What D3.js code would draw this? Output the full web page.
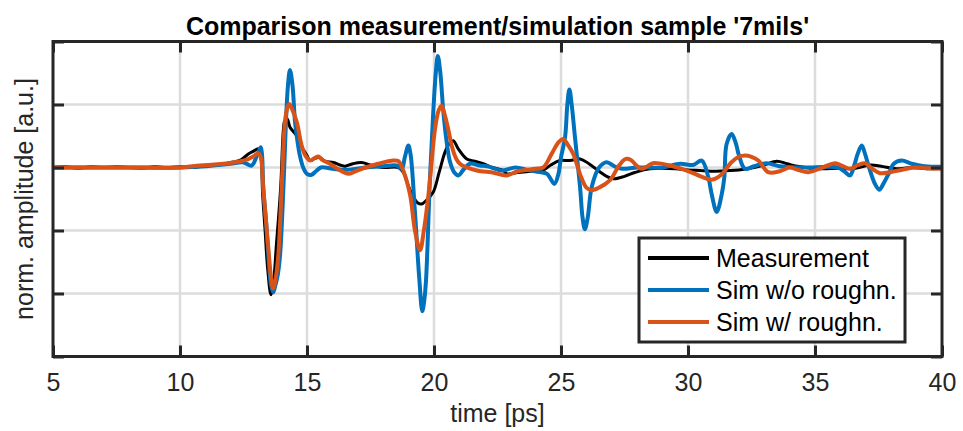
<!DOCTYPE html>
<html>
<head>
<meta charset="utf-8">
<script src="https://cdn.jsdelivr.net/npm/d3@7"></script>
<style>
  body { margin: 0; background: #fff; }
  text { font-family: "Liberation Sans", Arial, sans-serif; fill: #262626; }
</style>
</head>
<body>
<div id="chart"></div>
<script>
// measurement (black)
var measT = [5, 5.5, 6, 6.5, 7, 7.5, 8, 8.5, 9, 9.5, 10, 10.5, 11, 11.5, 12, 12.4, 12.69, 12.9, 13.08, 13.18, 13.25, 13.35, 13.45, 13.58, 13.66, 13.8, 13.96, 14.07, 14.12, 14.22, 14.33, 14.6, 14.72, 15.0, 15.12, 15.3, 15.5, 15.7, 16.04, 16.3, 16.5, 16.8, 17.15, 17.5, 18.0, 18.6, 18.79, 19.0, 19.19, 19.35, 19.51, 19.7, 19.97, 20.2, 20.43, 20.6, 20.76, 20.95, 21.29, 21.6, 21.94, 22.3, 22.73, 22.86, 23.3, 23.8, 24.3, 24.6, 24.96, 25.35, 25.75, 26.1, 26.5, 26.8, 27.06, 27.5, 27.9, 28.5, 29.5, 30.0, 30.47, 30.9, 31.5, 32.0, 32.6, 33.0, 33.5, 33.9, 34.3, 35.2, 36.0, 36.5, 37.2, 37.6, 38.2, 38.8, 39.4, 40]
var measV = [0, 0.005, -0.005, 0.005, 0, 0.005, 0, -0.005, 0.005, 0, 0.005, 0, 0.015, 0.02, 0.04, 0.06, 0.108, 0.13, 0.148, 0.1, -0.2, -0.5, -0.8, -1.01, -0.95, -0.6, -0.168, 0.3, 0.37, 0.385, 0.32, 0.25, 0.19, 0.095, 0.055, 0.07, 0.08, 0.05, 0.04, 0.02, 0.01, 0.03, 0.04, 0.02, 0, 0, -0.037, -0.15, -0.235, -0.28, -0.29, -0.26, -0.195, -0.04, 0.12, 0.19, 0.213, 0.15, 0.068, 0.05, 0.03, 0, -0.024, -0.05, -0.04, -0.03, -0.02, 0.02, 0.055, 0.055, 0.068, 0.03, -0.03, -0.07, -0.09, -0.07, -0.04, -0.01, -0.01, -0.02, -0.024, -0.03, -0.025, -0.02, 0, 0.02, 0.05, 0.03, 0.01, -0.01, -0.005, -0.01, 0.02, 0.01, -0.01, 0, -0.01, -0.005]

// simulation without roughness (blue)
var simT = [5, 8, 10, 11, 12, 12.5, 12.82, 13.02, 13.18, 13.23, 13.28, 13.39, 13.48, 13.58, 13.67, 13.76, 13.85, 13.94, 14.07, 14.17, 14.25, 14.33, 14.43, 14.53, 14.63, 14.72, 14.85, 15.0, 15.18, 15.35, 15.55, 16.0, 16.5, 17.3, 18.0, 18.53, 18.73, 18.85, 18.99, 19.08, 19.25, 19.42, 19.54, 19.62, 19.69, 19.84, 19.97, 20.07, 20.15, 20.25, 20.37, 20.5, 20.63, 20.8, 20.96, 21.15, 21.42, 21.8, 22.1, 22.7, 23.2, 23.7, 24.17, 24.45, 24.74, 24.9, 25.0, 25.16, 25.25, 25.33, 25.42, 25.55, 25.75, 25.85, 25.94, 26.05, 26.21, 26.5, 26.8, 27.1, 27.4, 28, 29, 29.69, 30.2, 30.54, 30.8, 30.93, 31.13, 31.33, 31.43, 31.52, 31.72, 31.89, 32.0, 32.24, 32.6, 33.1, 33.6, 34.5, 35.9, 36.15, 36.38, 36.55, 36.68, 36.84, 36.97, 37.1, 37.36, 37.53, 37.69, 37.9, 38.1, 38.41, 38.8, 39.3, 40]
var simV = [0, 0, 0, 0.01, 0.03, 0.04, 0.015, 0.09, 0.16, 0.1, -0.168, -0.43, -0.695, -0.93, -0.99, -0.93, -0.85, -0.695, -0.168, 0.358, 0.65, 0.774, 0.65, 0.358, 0.2, 0.095, 0, -0.05, -0.058, -0.03, 0, -0.01, -0.02, 0, 0.01, 0.016, -0.01, 0.08, 0.174, 0.1, -0.353, -0.88, -1.14, -1.05, -0.88, -0.09, 0.437, 0.75, 0.885, 0.75, 0.437, 0.2, 0.045, -0.04, -0.063, -0.02, 0.03, 0.016, 0.01, -0.024, 0, -0.02, -0.037, -0.05, -0.13, -0.05, 0.08, 0.24, 0.5, 0.62, 0.5, 0.24, -0.155, -0.4, -0.49, -0.4, -0.155, 0, 0.042, 0.01, -0.01, 0, 0, 0.03, 0.02, 0.055, -0.077, -0.21, -0.353, -0.21, -0.077, 0.187, 0.266, 0.187, 0.1, -0.01, 0.01, 0.034, 0.01, 0, 0, -0.03, -0.063, 0.02, 0.108, 0.174, 0.108, 0.02, -0.13, -0.176, -0.13, -0.05, 0.03, 0.055, 0.03, 0.01, 0.005]

// simulation with roughness (orange)
var roughT = [5, 8, 10, 10.79, 11.5, 12.1, 12.6, 12.9, 13.08, 13.18, 13.28, 13.5, 13.6, 13.67, 13.75, 13.87, 14.0, 14.13, 14.22, 14.3, 14.4, 14.6, 14.79, 14.95, 15.12, 15.3, 15.45, 15.6, 15.9, 16.2, 16.63, 16.9, 17.3, 17.8, 18.4, 18.6, 18.8, 19.06, 19.25, 19.45, 19.6, 19.78, 20.04, 20.18, 20.3, 20.42, 20.56, 20.7, 20.85, 21.02, 21.68, 22.3, 22.86, 23.3, 24.0, 24.3, 24.63, 24.9, 25.09, 25.3, 25.48, 25.8, 26.0, 26.21, 26.5, 26.93, 27.3, 27.55, 27.75, 27.95, 28.15, 28.4, 28.62, 29.2, 29.95, 30.5, 30.93, 31.3, 31.7, 32.0, 32.24, 32.5, 32.77, 33.16, 33.6, 34.0, 34.35, 34.74, 35.3, 35.79, 36.1, 36.38, 36.7, 36.97, 37.25, 37.56, 38.0, 38.4, 38.9, 39.4, 40]
var roughV = [0, 0, 0, 0.016, 0.025, 0.04, 0.06, 0.09, 0.113, 0.08, -0.168, -0.695, -0.9, -0.96, -0.9, -0.695, -0.168, 0.358, 0.47, 0.503, 0.47, 0.358, 0.174, 0.09, 0.055, 0.075, 0.087, 0.06, 0.03, -0.01, -0.05, -0.03, 0, 0.03, 0.055, 0.05, -0.03, -0.22, -0.5, -0.656, -0.5, -0.22, 0.305, 0.45, 0.49, 0.42, 0.305, 0.17, 0.08, 0.03, -0.024, -0.04, -0.063, -0.03, -0.01, 0, 0.108, 0.2, 0.227, 0.17, 0.108, -0.08, -0.16, -0.18, -0.16, -0.1, 0.02, 0.068, 0.06, 0.02, -0.01, 0.01, 0.034, 0.02, -0.024, -0.07, -0.097, -0.06, 0.04, 0.085, 0.095, 0.085, 0.055, -0.037, -0.03, 0, -0.02, -0.037, 0, 0.034, 0.01, -0.01, 0.02, 0.034, -0.01, -0.045, -0.035, -0.02, 0, -0.005, -0.01]

var xTicks = [5, 10, 15, 20, 25, 30, 35, 40]
var yTicks = [-1.5, -1, -0.5, 0, 0.5, 1]
var seriesNames = ['Measurement', 'Sim w/o roughn.', 'Sim w/ roughn.']
var seriesColors = ['#000000', '#0072bd', '#d95319']

var width = 963
var height = 431
var margin = { top: 41.5, right: 21, bottom: 74.5, left: 53 }
var axisColor = '#262626'

var svg = d3
  .select('#chart')
  .append('svg')
  .attr('width', width)
  .attr('height', height)

var x = d3
  .scaleLinear()
  .domain([5, 40])
  .range([margin.left, width - margin.right])
var y = d3
  .scaleLinear()
  .domain([-1.5, 1])
  .range([height - margin.bottom, margin.top])

var x0 = x.range()[0]
var x1 = x.range()[1]
var y0 = y.range()[0]
var y1 = y.range()[1]

//grid
var grid = svg.append('g').attr('stroke', '#dcdcdc').attr('stroke-width', 2.5)
grid
  .selectAll('.gx')
  .data(xTicks.slice(1, -1))
  .enter()
  .append('line')
  .attr('x1', function(d) { return x(d) })
  .attr('x2', function(d) { return x(d) })
  .attr('y1', y1)
  .attr('y2', y0)
grid
  .selectAll('.gy')
  .data(yTicks.slice(1, -1))
  .enter()
  .append('line')
  .attr('y1', function(d) { return y(d) })
  .attr('y2', function(d) { return y(d) })
  .attr('x1', x0)
  .attr('x2', x1)

//lines
svg
  .append('clipPath')
  .attr('id', 'clip')
  .append('rect')
  .attr('x', x0)
  .attr('y', y1)
  .attr('width', x1 - x0)
  .attr('height', y0 - y1)

function toPoints(ts, vs) {
  return ts.map(function(t, i) { return [t, vs[i]] })
}
var series = [
  { pts: toPoints(measT, measV), color: seriesColors[0], w: 3 },
  { pts: toPoints(simT, simV), color: seriesColors[1], w: 4 },
  { pts: toPoints(roughT, roughV), color: seriesColors[2], w: 4 }
]
var line = d3
  .line()
  .x(function(d) { return x(d[0]) })
  .y(function(d) { return y(d[1]) })
  .curve(d3.curveCatmullRom.alpha(0.5))

svg
  .append('g')
  .attr('clip-path', 'url(#clip)')
  .selectAll('path')
  .data(series)
  .enter()
  .append('path')
  .attr('d', function(d) { return line(d.pts) })
  .attr('fill', 'none')
  .attr('stroke', function(d) { return d.color })
  .attr('stroke-width', function(d) { return d.w })
  .attr('stroke-linejoin', 'round')

//axes, ticks point inward
var tickLen = 11
function styleAxis(g) {
  g.select('.domain').remove()
  g.selectAll('.tick line').attr('stroke', axisColor).attr('stroke-width', 3)
  g.selectAll('.tick text')
    .attr('fill', axisColor)
    .style('font-size', '25px')
    .style('font-family', '"Liberation Sans", Arial, sans-serif')
}
svg
  .append('g')
  .attr('transform', 'translate(0,' + y0 + ')')
  .call(d3.axisBottom(x).tickValues(xTicks).tickSize(-tickLen).tickPadding(17).tickFormat(d3.format('d')))
  .call(styleAxis)
svg
  .append('g')
  .attr('transform', 'translate(0,' + y1 + ')')
  .call(d3.axisTop(x).tickValues(xTicks).tickSize(-tickLen).tickFormat(''))
  .call(styleAxis)
svg
  .append('g')
  .attr('transform', 'translate(' + x0 + ',0)')
  .call(d3.axisLeft(y).tickValues(yTicks).tickSize(-tickLen).tickFormat(''))
  .call(styleAxis)
svg
  .append('g')
  .attr('transform', 'translate(' + x1 + ',0)')
  .call(d3.axisRight(y).tickValues(yTicks).tickSize(-tickLen).tickFormat(''))
  .call(styleAxis)

svg
  .append('rect')
  .attr('x', x0)
  .attr('y', y1)
  .attr('width', x1 - x0)
  .attr('height', y0 - y1)
  .attr('fill', 'none')
  .attr('stroke', axisColor)
  .attr('stroke-width', 3)

//labels
svg
  .append('text')
  .attr('x', (x0 + x1) / 2)
  .attr('y', 35)
  .attr('text-anchor', 'middle')
  .style('font-size', '25px')
  .style('font-weight', 'bold')
  .style('fill', '#000')
  .text("Comparison measurement/simulation sample '7mils'")
svg
  .append('text')
  .attr('x', (x0 + x1) / 2)
  .attr('y', 422)
  .attr('text-anchor', 'middle')
  .style('font-size', '25px')
  .text('time [ps]')
svg
  .append('text')
  .attr('transform', 'translate(33,' + (y0 + y1) / 2 + ') rotate(-90)')
  .attr('text-anchor', 'middle')
  .style('font-size', '25px')
  .text('norm. amplitude [a.u.]')

//legend
var legend = svg.append('g').attr('transform', 'translate(639,238)')
legend
  .append('rect')
  .attr('width', 266)
  .attr('height', 104)
  .attr('fill', '#fff')
  .attr('stroke', axisColor)
  .attr('stroke-width', 3)
var rows = legend
  .selectAll('.row')
  .data(seriesNames)
  .enter()
  .append('g')
  .attr('transform', function(d, i) { return 'translate(0,' + (29 + i * 32) + ')' })
rows
  .append('line')
  .attr('x1', 9)
  .attr('x2', 70)
  .attr('y1', -9)
  .attr('y2', -9)
  .attr('stroke', function(d, i) { return seriesColors[i] })
  .attr('stroke-width', 4)
rows
  .append('text')
  .attr('x', 77)
  .style('font-size', '25px')
  .style('fill', '#000')
  .text(function(d) { return d })
</script>
</body>
</html>
